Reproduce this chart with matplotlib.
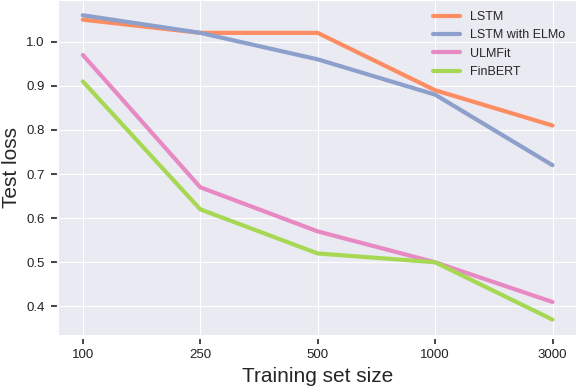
import numpy as np
import seaborn as sns
import matplotlib
matplotlib.use("Agg")
import matplotlib.pyplot as plt

# data
sizes    = ["100", "250", "500", "1000", "3000"]
lstm     = [1.05, 1.02, 1.02, 0.89, 0.81]
elmo     = [1.06, 1.02, 0.96, 0.88, 0.72]
ulmfit   = [0.97, 0.67, 0.57, 0.50, 0.41]
finbert  = [0.91, 0.62, 0.52, 0.50, 0.37]
names    = ["LSTM", "LSTM with ELMo", "ULMFit", "FinBERT"]

sns.set_style("darkgrid")
plt.rcParams['font.family'] = ['Liberation Sans', 'DejaVu Sans']
plt.rcParams['xtick.bottom'] = True
plt.rcParams['ytick.left'] = True

colors = sns.color_palette("Set2")
cols   = [colors[1], colors[2], colors[3], colors[4]]

fig, ax = plt.subplots(figsize=(5.76, 3.88), dpi=100)
x = np.arange(len(sizes))
for series, name, c in zip([lstm, elmo, ulmfit, finbert], names, cols):
    ax.plot(x, series, color=c, linewidth=3.0, label=name)

ax.set_xticks(x)
ax.set_xticklabels(sizes)
ax.tick_params(labelsize=9.5, length=4.5, width=1.2, pad=4, colors="#222222")
ax.set_yticks([0.4, 0.5, 0.6, 0.7, 0.8, 0.9, 1.0])
# ticks sit a little away from the plot area
ax.spines['left'].set_position(('outward', 2))
ax.spines['bottom'].set_position(('outward', 2))
ax.set_xlabel("Training set size", fontsize=15)
ax.set_ylabel("Test loss", fontsize=15)
ax.legend(loc="upper right", frameon=False, fontsize=9, handlelength=2.1)

plt.subplots_adjust(left=0.103, right=1.0, top=1.0, bottom=0.137)
plt.savefig("out.png", dpi=100)
